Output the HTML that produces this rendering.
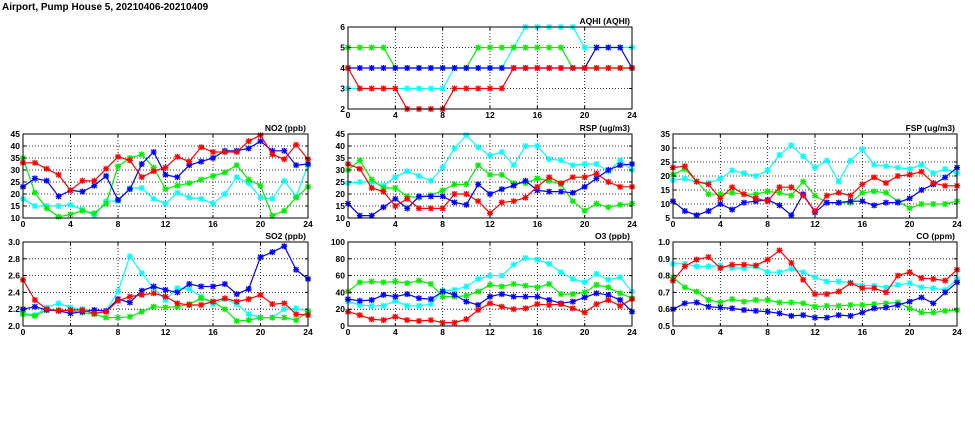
<!DOCTYPE html>
<html><head><meta charset="utf-8"><style>
body{margin:0;background:#fff;width:975px;height:447px;overflow:hidden}
svg{display:block;font-family:"Liberation Sans",sans-serif}
</style></head><body>
<svg id="c" width="975" height="447">
<text x="2" y="10" font-size="10" font-weight="bold">Airport, Pump House 5, 20210406-20210409</text>
</svg>
<script>
const hours=[0,1,2,3,4,5,6,7,8,9,10,11,12,13,14,15,16,17,18,19,20,21,22,23,24];
const xTicks=[0,4,8,12,16,20,24];
const colors={cyan:"#00ffff",green:"#00ee00",blue:"#0000ff",red:"#ff0000"};

const aqhiCyan=[3,3,3,3,3,3,3,3,3,4,4,4,4,4,5,6,6,6,6,6,5,5,5,5,5];
const aqhiGreen=[5,5,5,5,4,4,4,4,4,4,4,5,5,5,5,5,5,5,5,4,4,4,4,4,4];
const aqhiBlue=[4,4,4,4,4,4,4,4,4,4,4,4,4,4,4,4,4,4,4,4,4,5,5,5,4];
const aqhiRed=[4,3,3,3,3,2,2,2,2,3,3,3,3,3,4,4,4,4,4,4,4,4,4,4,4];
const aqhiTicks=[2,3,4,5,6];

const no2Cyan=[18,15,15,15,15.5,13.5,11,17,17,22.5,22.5,18,16,20.5,18.5,18,16,20,27,24.5,18.5,18,25.5,19,32];
const no2Green=[35,20.5,14,10.5,11.5,13,12,16,31.5,35,36.5,31,22,23.5,24.5,26,27.5,29,32,26,23.5,11,13,18.5,23];
const no2Blue=[23,26.5,25.5,19,21.5,21,23.5,27.5,17.5,22,32.5,37.5,28,27,32,33.5,35,38,38,39,42,38,38,32,32.5];
const no2Red=[33,33,30.5,28,21.5,25.5,25.5,30.5,35.5,34,27,29.5,31,35.5,33.5,39.5,37.5,37.5,37.5,42,44.5,36.5,34.5,40.5,34.5];
const no2Ticks=[10,15,20,25,30,35,40,45];

const rspCyan=[24.5,25,25,23.5,27,29.5,27.5,25.5,31,39,44.5,39.5,36,37.5,32,40,40,34.5,34,32,32.5,32.5,29.5,34,30];
const rspGreen=[30,34,26,22.5,22.5,19,18.5,19.5,21.5,24,24,32,28,28,24.5,24.5,26.5,25.5,24,17,13,16,14.5,15.5,16];
const rspBlue=[16,11,11,14.5,18,14,19,19,19,16.5,15.5,24,20,22,23.5,25.5,21.5,21,21,20.5,23,26.5,30,32,32.5];
const rspRed=[32.5,30.5,22.5,21,15,18,14,14,14,20,20,17,12,16.5,17,18.5,23,27,24.5,27,27,28.5,25,23,23];
const rspTicks=[10,15,20,25,30,35,40,45];

const fspCyan=[18.5,19,18,17.5,19,22,21,20,22,27.5,31,27,23,25.5,18,25.5,29.5,24,23.5,23,22.5,24,21,22.5,21];
const fspGreen=[20.5,22.5,18,13.5,13.5,14,13.5,13.5,14.5,14,13,18,13,10.5,10.5,10.5,14,14.5,14,11,8.5,10,10,10,11];
const fspBlue=[11,7.5,6,7.5,10,8,10.5,11,11.5,9.5,6,13.5,7,10.5,10.5,11,11,9.5,10.5,10.5,12,15,17,19.5,23];
const fspRed=[23,23.5,18,17,12,16,13.5,12,11,16,16,13,7.5,13,14,13,17,19.5,17.5,20,20.5,21.5,17.5,16.5,16.5];
const fspTicks=[5,10,15,20,25,30,35];

const so2Cyan=[2.15,2.13,2.22,2.27,2.22,2.20,2.18,2.18,2.41,2.83,2.63,2.45,2.31,2.45,2.44,2.35,2.26,2.32,2.26,2.14,2.10,2.10,2.20,2.21,2.18];
const so2Green=[2.14,2.12,2.19,2.19,2.18,2.16,2.14,2.10,2.10,2.11,2.17,2.23,2.22,2.23,2.26,2.33,2.29,2.20,2.06,2.07,2.10,2.10,2.10,2.07,2.17];
const so2Blue=[2.20,2.23,2.19,2.18,2.15,2.17,2.19,2.18,2.32,2.28,2.42,2.47,2.43,2.40,2.50,2.47,2.47,2.50,2.38,2.44,2.82,2.88,2.95,2.67,2.56];
const so2Red=[2.55,2.31,2.20,2.18,2.19,2.19,2.15,2.17,2.30,2.35,2.37,2.39,2.35,2.27,2.25,2.25,2.29,2.33,2.29,2.32,2.37,2.26,2.27,2.14,2.13];
const so2Ticks=[2.0,2.2,2.4,2.6,2.8,3.0];

const o3Cyan=[29,25,24,24,30,24,24,26,42,43,47,56,60,60,73,81,79,74,64,56,52,62,55,58,41];
const o3Green=[41,52,53,52,53,51,54,50,35,35,36,41,49,47,50,48,46,50,38,38,40,49,46,39,33];
const o3Blue=[32,30,31,37,35,38,33,32,41,37,29,25,35,38,35,35,35,31,27,29,34,39,37,31,17];
const o3Red=[17,13,8,7,11,7,6,7,4,4,8,19,27,23,20,21,26,25,26,21,16,26,31,24,32];
const o3Ticks=[0,20,40,60,80,100];

const coCyan=[0.87,0.87,0.855,0.855,0.86,0.845,0.845,0.855,0.82,0.82,0.84,0.82,0.79,0.765,0.765,0.76,0.74,0.74,0.73,0.745,0.755,0.73,0.725,0.715,0.78];
const coGreen=[0.79,0.73,0.705,0.655,0.64,0.66,0.645,0.655,0.655,0.64,0.64,0.635,0.615,0.62,0.62,0.625,0.625,0.63,0.635,0.64,0.605,0.58,0.58,0.59,0.595];
const coBlue=[0.60,0.635,0.64,0.615,0.61,0.605,0.595,0.59,0.585,0.575,0.56,0.565,0.55,0.55,0.565,0.56,0.58,0.605,0.61,0.625,0.645,0.67,0.635,0.70,0.76];
const coRed=[0.77,0.855,0.895,0.91,0.845,0.865,0.865,0.86,0.895,0.95,0.875,0.775,0.69,0.69,0.705,0.755,0.725,0.725,0.70,0.80,0.82,0.785,0.78,0.77,0.835];
const coTicks=[0.5,0.6,0.7,0.8,0.9,1.0];

const NS="http://www.w3.org/2000/svg";
const svg=document.getElementById('c');
function mk(tag,attrs,parent){const e=document.createElementNS(NS,tag);for(const k in attrs)e.setAttribute(k,attrs[k]);(parent||svg).appendChild(e);return e;}

function panel(key,title,x0,y0,x1,y1,ticks,dec,series){
  const g=mk('g',{});
  
  
  const ymin=ticks[0],ymax=ticks[ticks.length-1];
  const sx=v=>x0+(v-0)/24*(x1-x0);
  const sy=v=>y1-(v-ymin)/(ymax-ymin)*(y1-y0);
  // grid
  xTicks.forEach(t=>{if(t>0&&t<24){const l=mk('line',{x1:sx(t),x2:sx(t),y1:y0,y2:y1,stroke:'#000','stroke-width':0.8,'stroke-dasharray':'1,2'},g);}});
  ticks.forEach(t=>{if(t>ymin&&t<ymax){const l=mk('line',{x1:x0,x2:x1,y1:sy(t),y2:sy(t),stroke:'#000','stroke-width':0.8,'stroke-dasharray':'1,2'},g);}});
  // tick labels
  xTicks.forEach(t=>{const tx=mk('text',{x:sx(t),y:y1+9,'font-size':8.5,'font-weight':'bold','text-anchor':'middle'},g);tx.textContent=t;});
  ticks.forEach(t=>{const tx=mk('text',{x:x0-3,y:sy(t)+3,'font-size':8.5,'font-weight':'bold','text-anchor':'end'},g);tx.textContent=t.toFixed(dec);});
  const tt=mk('text',{x:x1-2,y:y0-3,'font-size':8.5,'font-weight':'bold','text-anchor':'end'},g);
  tt.textContent=title;
  
  
  series.forEach(([name,col,vals])=>{
    const sg=mk('g',{},g);
    
    
    const pts=vals.map((v,i)=>sx(hours[i]).toFixed(1)+','+sy(v).toFixed(1)).join(' ');
    const pl=mk('polyline',{points:pts,fill:'none',stroke:col,'stroke-width':1.2},sg);
    
    
    vals.forEach((v,i)=>{
      const cx=sx(hours[i]),cy=sy(v),r=3;
      const m=mk('path',{d:`M${cx-r},${cy}H${cx+r}M${cx},${cy-r}V${cy+r}M${cx-r*.8},${cy-r*.8}L${cx+r*.8},${cy+r*.8}M${cx-r*.8},${cy+r*.8}L${cx+r*.8},${cy-r*.8}`,stroke:col,'stroke-width':1.3},sg);
      
      
    });
  });
  const fr=mk('rect',{x:x0,y:y0,width:x1-x0,height:y1-y0,fill:'none',stroke:'#000','stroke-width':1},g);
  
  
  xTicks.forEach(t=>{mk('line',{x1:sx(t),x2:sx(t),y1:y1,y2:y1-3,stroke:'#000'},g);mk('line',{x1:sx(t),x2:sx(t),y1:y0,y2:y0+3,stroke:'#000'},g);});
  ticks.forEach(t=>{mk('line',{x1:x0,x2:x0+3,y1:sy(t),y2:sy(t),stroke:'#000'},g);mk('line',{x1:x1,x2:x1-3,y1:sy(t),y2:sy(t),stroke:'#000'},g);});
}
const order=(c,g,b,r)=>[['cyan',colors.cyan,c],['green',colors.green,g],['blue',colors.blue,b],['red',colors.red,r]];
panel('aqhi','AQHI (AQHI)',348,27,632,109,aqhiTicks,0,order(aqhiCyan,aqhiGreen,aqhiBlue,aqhiRed));
panel('no2','NO2 (ppb)',23,134,308,218,no2Ticks,0,order(no2Cyan,no2Green,no2Blue,no2Red));
panel('rsp','RSP (ug/m3)',348,134,632,218,rspTicks,0,order(rspCyan,rspGreen,rspBlue,rspRed));
panel('fsp','FSP (ug/m3)',673,134,957,218,fspTicks,0,order(fspCyan,fspGreen,fspBlue,fspRed));
panel('so2','SO2 (ppb)',23,242,308,326,so2Ticks,1,order(so2Cyan,so2Green,so2Blue,so2Red));
panel('o3','O3 (ppb)',348,242,632,326,o3Ticks,0,order(o3Cyan,o3Green,o3Blue,o3Red));
panel('co','CO (ppm)',673,242,957,326,coTicks,1,order(coCyan,coGreen,coBlue,coRed));
</script>
</body></html>
